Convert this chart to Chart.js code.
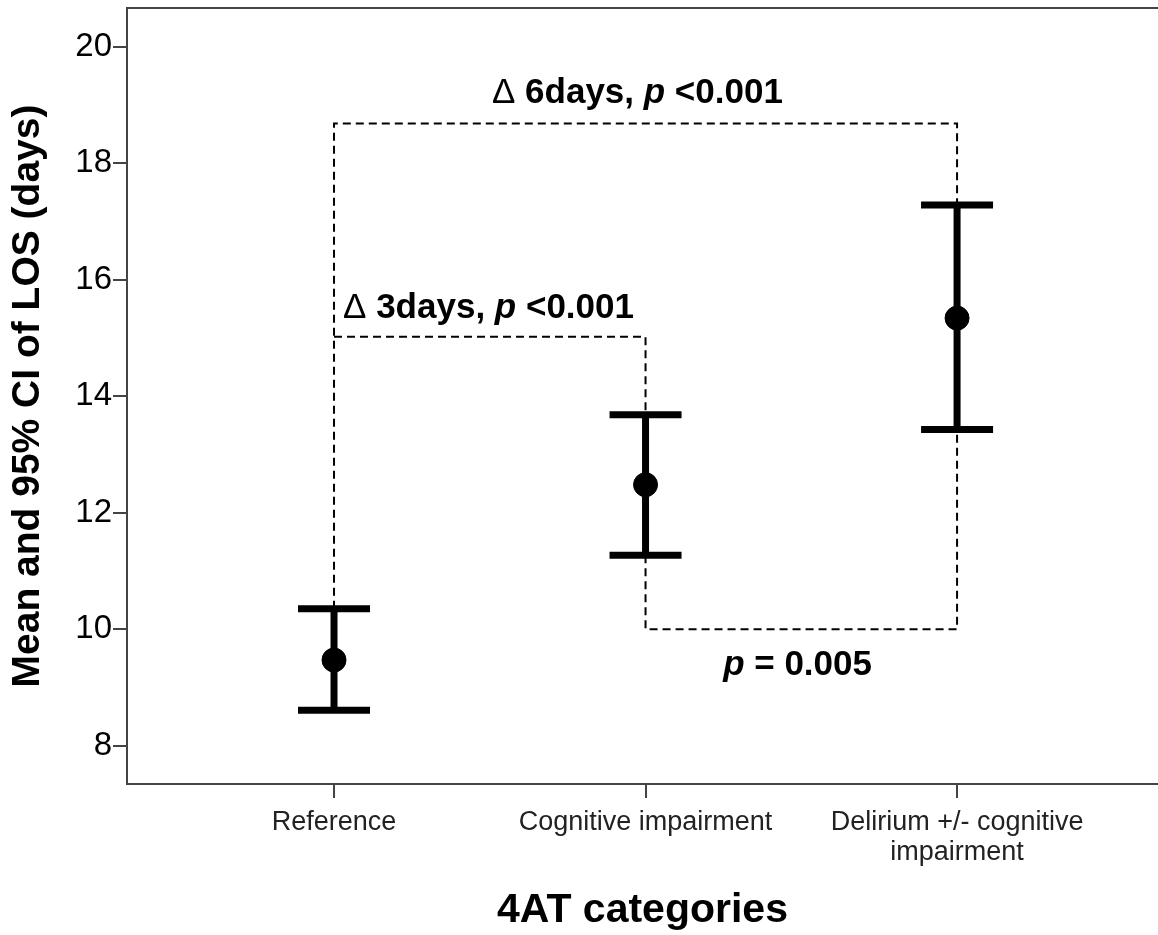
<!DOCTYPE html>
<html>
<head>
<meta charset="utf-8">
<script src="https://cdn.jsdelivr.net/npm/chart.js@4.4.1/dist/chart.umd.min.js"></script>
<style>
  body { margin: 0; background: #fff; }
  .wrap { width: 1158px; height: 935px; }
</style>
</head>
<body>
<div class="wrap"><canvas id="losChart"></canvas></div>
<script>
// data start
const categories = ['Reference', 'Cognitive impairment', ['Delirium +/- cognitive', 'impairment']];
const xPos = [1, 2, 3];
const means = [9.47, 12.48, 15.34];
const lower = [8.61, 11.27, 13.43];
const upper = [10.35, 13.68, 17.28];
const yTicks = [8, 10, 12, 14, 16, 18, 20];

// significance brackets
const bracket6 = [{x: 1, y: 10.35}, {x: 1, y: 18.68}, {x: 3, y: 18.68}, {x: 3, y: 17.28}];
const bracket3 = [{x: 1, y: 15.02}, {x: 2, y: 15.02}, {x: 2, y: 13.68}];
const bracketP = [{x: 2, y: 11.27}, {x: 2, y: 10.0}, {x: 3, y: 10.0}, {x: 3, y: 13.43}];

const notes = [
  {x: 1.974, y: 19.03, align: 'center', parts: [['\u0394 ', 'normal'], ['6days, ', 'bold'], ['p', 'italic bold'], [' <0.001', 'bold']]},
  {x: 1.029, y: 15.34, align: 'left', parts: [['\u0394 ', 'normal'], ['3days, ', 'bold'], ['p', 'italic bold'], [' <0.001', 'bold']]},
  {x: 2.488, y: 9.21, align: 'center', parts: [['p', 'italic bold'], [' = 0.005', 'bold']]}
];
// data close

const FONT = '"Liberation Sans", Arial, sans-serif';

// whiskers as one broken line
const whiskers = [];
xPos.forEach((x, i) => {
  whiskers.push({x: x, y: lower[i]}, {x: x, y: upper[i]}, {x: x, y: null});
});
const caps = [];
xPos.forEach((x, i) => {
  caps.push({x: x, y: lower[i]}, {x: x, y: upper[i]});
});

function dashed(data) {
  return {
    type: 'line', data: data, borderColor: '#000', borderWidth: 2,
    borderDash: [8, 5], pointRadius: 0, fill: false, tension: 0, order: 5
  };
}

// top frame line + annotation text
const extras = {
  id: 'extras',
  beforeDatasetsDraw(chart) {
    const {ctx, chartArea} = chart;
    ctx.save();
    ctx.strokeStyle = '#444';
    ctx.lineWidth = 2;
    ctx.beginPath();
    ctx.moveTo(chartArea.left, chartArea.top);
    ctx.lineTo(chartArea.right, chartArea.top);
    ctx.stroke();
    ctx.restore();
  },
  afterDatasetsDraw(chart) {
    const {ctx, scales} = chart;
    ctx.save();
    ctx.fillStyle = '#000';
    ctx.textBaseline = 'alphabetic';
    ctx.textAlign = 'left';
    notes.forEach(n => {
      let total = 0;
      n.parts.forEach(p => {
        ctx.font = p[1] + ' 35px ' + FONT;
        total += ctx.measureText(p[0]).width;
      });
      let x = scales.x.getPixelForValue(n.x);
      if (n.align === 'center') x -= total / 2;
      const y = scales.y.getPixelForValue(n.y);
      n.parts.forEach(p => {
        ctx.font = p[1] + ' 35px ' + FONT;
        ctx.fillText(p[0], x, y);
        x += ctx.measureText(p[0]).width;
      });
    });
    ctx.restore();
  }
};

const ctx = document.getElementById('losChart').getContext('2d');
const losChart = new Chart(ctx, {
  type: 'scatter',
  data: {
    datasets: [
      {
        type: 'line', data: whiskers, borderColor: '#000', borderWidth: 7,
        pointRadius: 0, spanGaps: false, borderCapStyle: 'butt', order: 3
      },
      {
        data: caps, pointStyle: 'line', pointRadius: 36, pointBorderWidth: 7,
        borderColor: '#000', backgroundColor: '#000', order: 2
      },
      {
        data: xPos.map((x, i) => ({x: x, y: means[i]})),
        pointStyle: 'circle', pointRadius: 12, pointBorderWidth: 1,
        borderColor: '#000', backgroundColor: '#000', order: 1
      },
      dashed(bracket6),
      dashed(bracket3),
      dashed(bracketP)
    ]
  },
  options: {
    responsive: true,
    maintainAspectRatio: false,
    animation: false,
    layout: { autoPadding: false, padding: { top: 8, right: 0, left: 0, bottom: 0 } },
    plugins: {
      legend: { display: false },
      tooltip: { enabled: false }
    },
    scales: {
      x: {
        type: 'linear',
        min: 0.3355,
        max: 3.645,
        afterBuildTicks: function (scale) {
          scale.ticks = xPos.map(v => ({value: v}));
        },
        afterFit: function (scale) {
          scale.height = 151;
          scale.paddingLeft = 0;
          scale.paddingRight = 0;
        },
        border: { display: true, color: '#444', width: 2 },
        grid: { drawOnChartArea: false, drawTicks: true, tickLength: 14, color: '#444', lineWidth: 2 },
        ticks: {
          autoSkip: false,
          maxRotation: 0,
          padding: 10,
          color: '#222',
          font: { family: FONT, size: 27, lineHeight: 1.1 },
          callback: function (v) { return categories[xPos.indexOf(v)]; }
        },
        title: {
          display: true,
          text: '4AT categories',
          color: '#000',
          font: { family: FONT, size: 41, weight: 'bold', lineHeight: 1.2 },
          padding: { top: 0, bottom: 0 }
        }
      },
      y: {
        min: 7.342,
        max: 20.664,
        afterBuildTicks: function (scale) {
          scale.ticks = yTicks.map(v => ({value: v}));
        },
        afterFit: function (scale) {
          scale.width = 127;
          scale.paddingTop = 0;
          scale.paddingBottom = 0;
        },
        border: { display: true, color: '#444', width: 2 },
        grid: { drawOnChartArea: false, drawTicks: true, tickLength: 14, color: '#444', lineWidth: 2 },
        ticks: {
          padding: 1,
          color: '#000',
          font: { family: FONT, size: 33 }
        },
        title: {
          display: true,
          text: 'Mean and 95% CI of LOS (days)',
          color: '#000',
          font: { family: FONT, size: 39, weight: 'bold', lineHeight: 1.2 },
          padding: { top: 5, bottom: 0 }
        }
      }
    }
  },
  plugins: [extras]
});
</script>
</body>
</html>
